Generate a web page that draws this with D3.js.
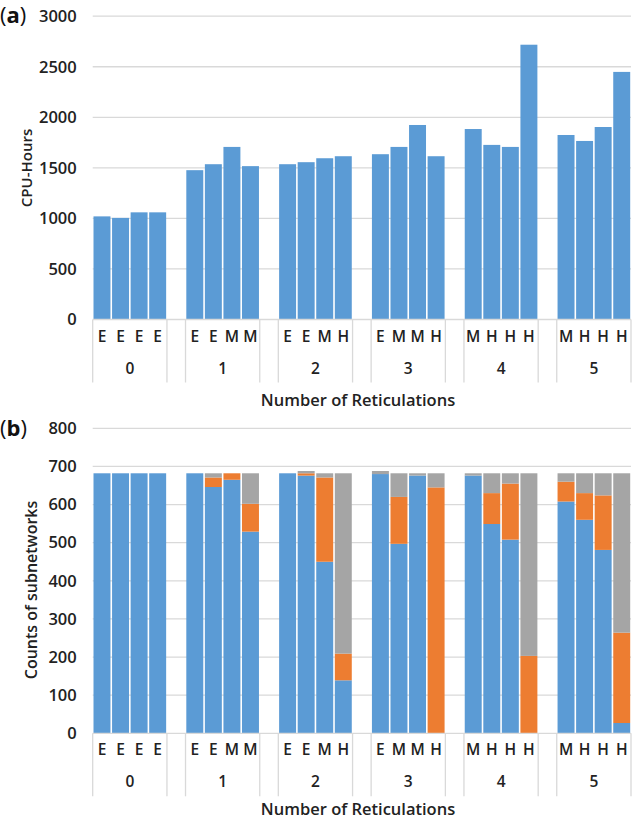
<!DOCTYPE html>
<html>
<head>
<meta charset="utf-8">
<script src="https://cdn.jsdelivr.net/npm/d3@7"></script>
<style>
  html, body { margin: 0; padding: 0; background: #fff; }
  svg { display: block; font-family: "Open Sans", "DejaVu Sans", sans-serif; }
</style>
</head>
<body>
<svg id="chart" width="632" height="819"></svg>
<script>
// ---- data ----
const groups = ["0", "1", "2", "3", "4", "5"];
const subLabels = [
  ["E", "E", "E", "E"],
  ["E", "E", "M", "M"],
  ["E", "E", "M", "H"],
  ["E", "M", "M", "H"],
  ["M", "H", "H", "H"],
  ["M", "H", "H", "H"]
];
const cpuHours = [
  [1020, 1005, 1060, 1060],
  [1477, 1536, 1707, 1517],
  [1536, 1556, 1595, 1615],
  [1635, 1707, 1924, 1615],
  [1884, 1727, 1707, 2718],
  [1825, 1766, 1904, 2449]
];
const blueCounts = [
  [682, 682, 682, 682],
  [682, 646, 665, 529],
  [682, 676, 450, 139],
  [680, 497, 676, 0],
  [676, 549, 508, 0],
  [608, 560, 481, 27]
];
const orangeCounts = [
  [0, 0, 0, 0],
  [0, 25, 17, 73],
  [0, 6, 221, 70],
  [0, 123, 0, 645],
  [0, 81, 147, 203],
  [52, 70, 143, 237]
];
const grayCounts = [
  [0, 0, 0, 0],
  [0, 11, 0, 80],
  [0, 6, 11, 473],
  [8, 62, 6, 37],
  [6, 52, 27, 479],
  [22, 52, 58, 418]
];
const cpuTicks = [0, 500, 1000, 1500, 2000, 2500, 3000];
const countTicks = [0, 100, 200, 300, 400, 500, 600, 700, 800];
const seriesColors = ["#5B9BD5", "#ED7D31", "#A5A5A5"];

// ---- layout ----
const svg = d3.select("#chart");
const left = 92.7, right = 631;
const gridColor = "#D9D9D9";

// build category list with a blank slot between groups
const cats = [];
groups.forEach((g, gi) => {
  subLabels[gi].forEach((s, si) => cats.push({ id: g + "-" + si, g: gi, s: si, label: s }));
  if (gi < groups.length - 1) cats.push({ id: "blank-" + gi, blank: true });
});
const x = d3.scaleBand().domain(cats.map(c => c.id)).range([left, right]).padding(0);
const barGap = 1.6;

// group spans (start and end of each group/blank)
const spans = [];
cats.forEach(c => {
  const last = spans[spans.length - 1];
  const key = c.blank ? c.id : "g" + c.g;
  if (last && last.key === key) { last.x1 = x(c.id) + x.bandwidth(); }
  else spans.push({ key, x0: x(c.id), x1: x(c.id) + x.bandwidth(), label: c.blank ? "" : groups[c.g] });
});

function drawPanel(opts) {
  const { y, ticks, y0, panelLabel, panelLabelY, yTitle, yTitleX, yTitleY, yTitleSize, titleY } = opts;
  const g = svg.append("g");
  // gridlines
  g.append("g").selectAll("line").data(ticks.filter(t => t > 0)).join("line")
    .attr("x1", left).attr("x2", right)
    .attr("y1", d => y(d)).attr("y2", d => y(d))
    .attr("stroke", gridColor).attr("stroke-width", 1.3);
  // y axis labels
  const ax = g.append("g").attr("transform", `translate(${left},0)`)
    .call(d3.axisLeft(y).tickValues(ticks).tickFormat(d3.format("d")).tickSize(0).tickPadding(16));
  ax.select(".domain").remove();
  ax.selectAll("text").attr("font-size", 16.5).attr("font-weight", 600)
    .attr("fill", "#222").attr("font-family", "'Open Sans', sans-serif");

  opts.drawBars(g);

  // category axis
  g.append("line").attr("x1", left).attr("x2", right).attr("y1", y0).attr("y2", y0)
    .attr("stroke", gridColor).attr("stroke-width", 1.3);
  const bounds = [];
  spans.forEach(s => { bounds.push(s.x0); });
  bounds.push(right);
  g.append("g").selectAll("line").data(bounds).join("line")
    .attr("x1", d => d).attr("x2", d => d).attr("y1", y0).attr("y2", y0 + 63)
    .attr("stroke", gridColor).attr("stroke-width", 1.3);
  g.append("g").selectAll("text").data(cats.filter(c => !c.blank)).join("text")
    .attr("x", d => x(d.id) + x.bandwidth() / 2).attr("y", y0 + 22)
    .attr("text-anchor", "middle").attr("font-size", 15.5).attr("font-weight", 600).attr("fill", "#222")
    .text(d => d.label);
  g.append("g").selectAll("text").data(spans.filter(s => s.label !== "")).join("text")
    .attr("x", d => (d.x0 + d.x1) / 2).attr("y", y0 + 54)
    .attr("text-anchor", "middle").attr("font-size", 15.5).attr("font-weight", 600).attr("fill", "#222")
    .text(d => d.label);
  // x title
  g.append("text").attr("x", 358).attr("y", titleY)
    .attr("text-anchor", "middle").attr("font-size", 16.5).attr("font-weight", 600).attr("fill", "#222")
    .text("Number of Reticulations");
  // y title
  g.append("text").attr("transform", `translate(${yTitleX},${yTitleY}) rotate(-90)`)
    .attr("text-anchor", "middle").attr("font-size", yTitleSize).attr("font-weight", 600).attr("fill", "#222")
    .text(yTitle);
  // panel label
  const pl = g.append("text").attr("x", 0).attr("y", panelLabelY).attr("font-size", 22).attr("fill", "#111");
  pl.append("tspan").text("(");
  pl.append("tspan").attr("font-weight", 700).text(panelLabel);
  pl.append("tspan").text(")");
}

// ---- panel (a) ----
const yA = d3.scaleLinear().domain([0, 3000]).range([319.5, 16.2]);
drawPanel({
  y: yA, ticks: cpuTicks, y0: 319.5, panelLabel: "a", panelLabelY: 23,
  yTitle: "CPU-Hours", yTitleX: 32, yTitleY: 168, yTitleSize: 15, titleY: 406,
  drawBars(g) {
    const data = [];
    groups.forEach((gname, gi) => cpuHours[gi].forEach((v, si) => data.push({ id: gname + "-" + si, v })));
    g.append("g").selectAll("rect").data(data).join("rect")
      .attr("x", d => x(d.id) + barGap / 2).attr("width", x.bandwidth() - barGap)
      .attr("y", d => yA(d.v)).attr("height", d => yA(0) - yA(d.v))
      .attr("fill", seriesColors[0]);
  }
});

// ---- panel (b) ----
const yB = d3.scaleLinear().domain([0, 800]).range([733.3, 428.3]);
drawPanel({
  y: yB, ticks: countTicks, y0: 733.3, panelLabel: "b", panelLabelY: 436,
  yTitle: "Counts of subnetworks", yTitleX: 37, yTitleY: 590, yTitleSize: 16, titleY: 815,
  drawBars(g) {
    const rows = [];
    groups.forEach((gname, gi) => subLabels[gi].forEach((s, si) => rows.push({
      id: gname + "-" + si, blue: blueCounts[gi][si], orange: orangeCounts[gi][si], gray: grayCounts[gi][si]
    })));
    const stacked = d3.stack().keys(["blue", "orange", "gray"])(rows);
    g.append("g").selectAll("g").data(stacked).join("g")
      .attr("fill", (d, i) => seriesColors[i])
      .selectAll("rect").data(d => d).join("rect")
      .attr("x", d => x(d.data.id) + barGap / 2).attr("width", x.bandwidth() - barGap)
      .attr("y", d => yB(d[1])).attr("height", d => yB(d[0]) - yB(d[1]));
  }
});
</script>
</body>
</html>
